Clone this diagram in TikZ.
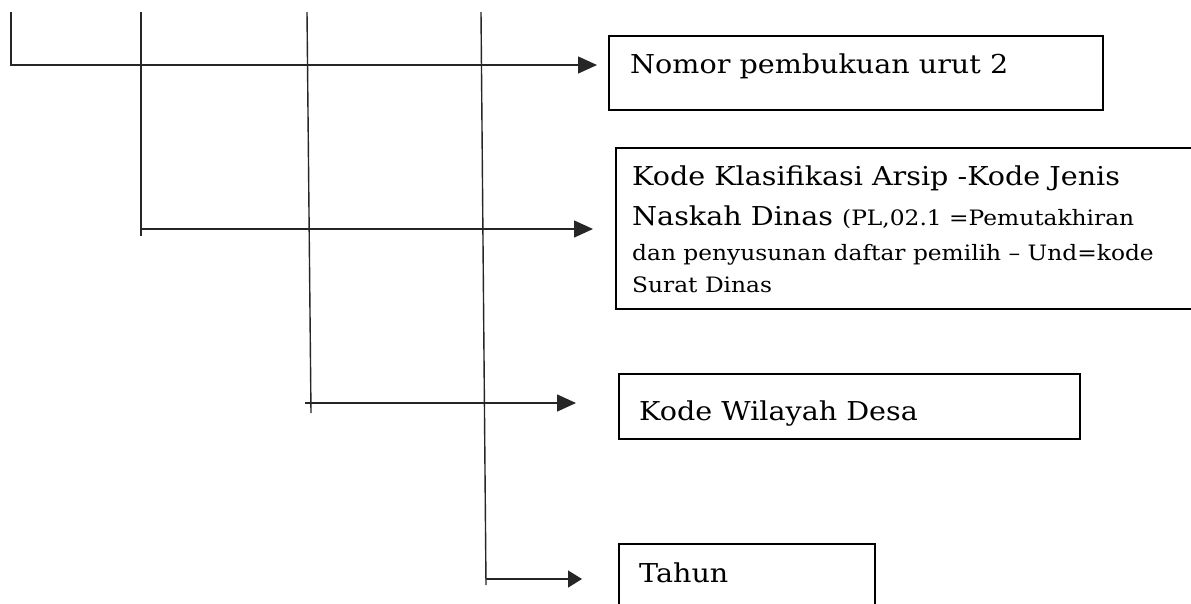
\documentclass[tikz,border=0pt]{standalone}
\usepackage{fontspec}
\setmainfont{DejaVu Serif}[FakeStretch=1.1]
\usetikzlibrary{arrows.meta}
\begin{document}
\begin{tikzpicture}[x=1pt,y=-1pt,
  conn/.style={line width=1.4pt,draw=black!85},
  arr/.style={conn,-{Triangle[length=19pt,width=17pt]}},
  arrs/.style={conn,-{Triangle[length=14pt,width=17pt]}},
  box/.style={draw,line width=1.6pt,rectangle,anchor=north west,inner sep=0pt},
  big/.style={anchor=base west,inner sep=0pt,font=\fontsize{26}{30}\selectfont},
  small/.style={anchor=base west,inner sep=0pt,font=\fontsize{21.2}{24}\selectfont}]
\useasboundingbox[fill=white] (0,0) rectangle (1191,603);
% boxes
\node[box,minimum width=494pt,minimum height=74pt] (b1) at (608,35) {};
\node[box,minimum width=600pt,minimum height=161pt] (b2) at (615,147) {};
\node[box,minimum width=461pt,minimum height=65pt] (b3) at (618,373) {};
\node[box,minimum width=256pt,minimum height=100pt] (b4) at (618,543) {};
% texts
\node[big] (t1) at (630,73) {Nomor pembukuan urut 2};
\node[big] (t2a) at (632,185) {Kode Klasifikasi Arsip -Kode Jenis};
\node[big] (t2b) at (632,225) {Naskah Dinas \fontsize{21.2}{24}\selectfont(PL,02.1 =Pemutakhiran};
\node[small] (t2c) at (632,260) {dan penyusunan daftar pemilih – Und=kode};
\node[small] (t2d) at (632,292) {Surat Dinas};
\node[big] (t3) at (639,420) {Kode Wilayah Desa};
\node[big] (t4) at (639,582) {Tahun};
% connector coordinates
\coordinate (s1) at (11,12);   \coordinate (c1) at (11,65);   \coordinate (e1) at (597,65);
\coordinate (s2) at (141,12);  \coordinate (d2) at (141,236); \coordinate (c2) at (141,229); \coordinate (e2) at (593,229);
\coordinate (s3) at (307,12);  \coordinate (d3) at (311,413); \coordinate (c3) at (305,403); \coordinate (e3) at (576,403);
\coordinate (s4) at (481,12);  \coordinate (d4) at (486,585); \coordinate (c4) at (486,579); \coordinate (e4) at (582,579);
% connectors
\draw[arr] (s1) -- (c1) -- (e1);
\draw[conn] (s2) -- (d2);
\draw[arr] (c2) -- (e2);
\draw[conn] (s3) -- (d3);
\draw[arr] (c3) -- (e3);
\draw[conn] (s4) -- (d4);
\draw[arrs] (c4) -- (e4);
\end{tikzpicture}
\end{document}
